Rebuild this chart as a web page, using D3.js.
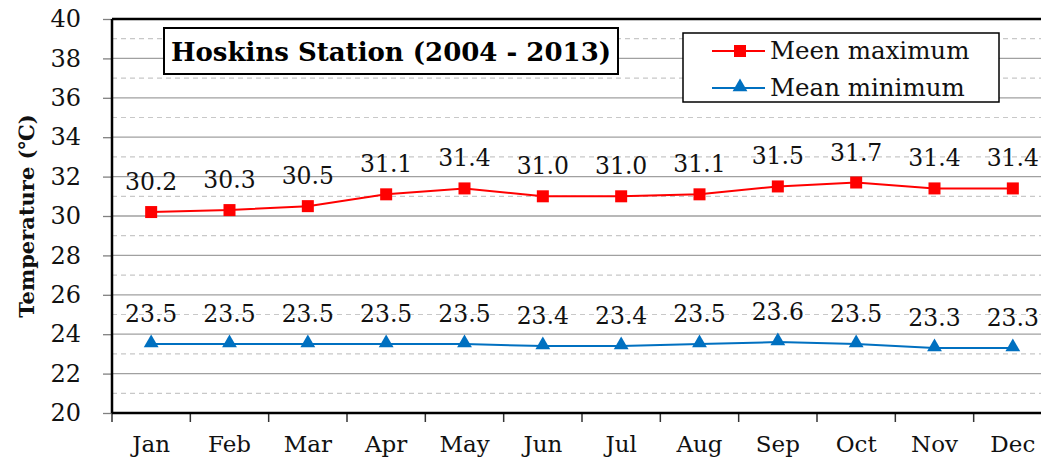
<!DOCTYPE html>
<html>
<head>
<meta charset="utf-8">
<script src="https://cdn.jsdelivr.net/npm/d3@7"></script>
<style>
  body { margin: 0; background: #fff; }
  svg { display: block; font-family: "DejaVu Serif", serif; }
</style>
</head>
<body>
<svg id="chart" width="1041" height="461"></svg>
<script>
var months = ["Jan", "Feb", "Mar", "Apr", "May", "Jun", "Jul", "Aug", "Sep", "Oct", "Nov", "Dec"];
var meanMax = [30.2, 30.3, 30.5, 31.1, 31.4, 31.0, 31.0, 31.1, 31.5, 31.7, 31.4, 31.4];
var meanMin = [23.5, 23.5, 23.5, 23.5, 23.5, 23.4, 23.4, 23.5, 23.6, 23.5, 23.3, 23.3];
var yTicks = [20, 22, 24, 26, 28, 30, 32, 34, 36, 38, 40];
var yMinor = [21, 23, 25, 27, 29, 31, 33, 35, 37, 39];
var seriesNames = ["Meen maximum", "Mean minimum"];
var titleText = "Hoskins Station (2004 - 2013)";
var yTitle = "Temperature (\u2103)";

var margin = {top: 19, left: 112},
    plotW = 940,
    plotH = 394;

var svg = d3.select("#chart");
var g = svg.append("g")
  .attr("transform", "translate(" + margin.left + "," + margin.top + ")");

var x = d3.scaleBand().domain(months).range([0, plotW]).padding(0);
var y = d3.scaleLinear().domain([20, 40]).range([plotH, 0]);
var cx = function(d) { return x(d) + x.bandwidth() / 2; };

// minor dashed gridlines
g.selectAll(".minor").data(yMinor).enter().append("line")
  .attr("x1", 0).attr("x2", plotW)
  .attr("y1", function(d) { return y(d); })
  .attr("y2", function(d) { return y(d); })
  .attr("stroke", "#c8c8c8").attr("stroke-width", 1.2)
  .attr("stroke-dasharray", "5,4");

// major gridlines
g.selectAll(".major").data(yTicks.slice(1, -1)).enter().append("line")
  .attr("x1", 0).attr("x2", plotW)
  .attr("y1", function(d) { return y(d); })
  .attr("y2", function(d) { return y(d); })
  .attr("stroke", "#a0a0a0").attr("stroke-width", 1.3);

// y axis
var yAxis = g.append("g")
  .call(d3.axisLeft(y).tickValues(yTicks).tickSize(9).tickPadding(22).tickFormat(d3.format("d")));
yAxis.select(".domain").remove();
yAxis.selectAll(".tick line").attr("stroke", "#808080").attr("stroke-width", 1.3);
yAxis.selectAll(".tick text")
  .attr("font-family", "DejaVu Serif").attr("font-size", 24).attr("fill", "#111");

// x axis labels (kept just inside the bottom edge)
var xAxis = g.append("g")
  .attr("transform", "translate(0," + plotH + ")")
  .call(d3.axisBottom(x).tickSize(0).tickPadding(23));
xAxis.select(".domain").remove();
xAxis.selectAll(".tick text")
  .attr("font-family", "DejaVu Serif").attr("font-size", 23).attr("fill", "#111");

// x tick marks on band boundaries
g.selectAll(".xtick").data(months).enter().append("line")
  .attr("x1", function(d) { return x(d); })
  .attr("x2", function(d) { return x(d); })
  .attr("y1", plotH).attr("y2", plotH + 9)
  .attr("stroke", "#333").attr("stroke-width", 1.5);

// frame lines
g.append("line").attr("x1", 0).attr("x2", plotW).attr("y1", 0).attr("y2", 0)
  .attr("stroke", "#000").attr("stroke-width", 2.5);
g.append("line").attr("x1", 0).attr("x2", plotW).attr("y1", plotH).attr("y2", plotH)
  .attr("stroke", "#000").attr("stroke-width", 2.5);
g.append("line").attr("x1", 0).attr("x2", 0).attr("y1", 0).attr("y2", plotH)
  .attr("stroke", "#000").attr("stroke-width", 2.5);

var line = d3.line()
  .x(function(d, i) { return cx(months[i]); })
  .y(function(d) { return y(d); });

// max series
g.append("path").datum(meanMax).attr("d", line)
  .attr("fill", "none").attr("stroke", "#ff0000").attr("stroke-width", 2);
g.selectAll(".sq").data(meanMax).enter().append("rect")
  .attr("x", function(d, i) { return cx(months[i]) - 6; })
  .attr("y", function(d) { return y(d) - 6; })
  .attr("width", 12).attr("height", 12)
  .attr("fill", "#ff0000");

// min series
g.append("path").datum(meanMin).attr("d", line)
  .attr("fill", "none").attr("stroke", "#0070c0").attr("stroke-width", 2);
var tri = d3.symbol().type(d3.symbolTriangle).size(95);
g.selectAll(".tri").data(meanMin).enter().append("path")
  .attr("d", tri)
  .attr("transform", function(d, i) { return "translate(" + cx(months[i]) + "," + (y(d) - 1) + ")"; })
  .attr("fill", "#0070c0");

// data labels
function labels(data) {
  g.selectAll(null).data(data).enter().append("text")
    .attr("x", function(d, i) { return cx(months[i]); })
    .attr("y", function(d) { return y(d) - 22; })
    .attr("text-anchor", "middle")
    .attr("font-size", 23.5).attr("fill", "#111")
    .text(function(d) { return d.toFixed(1); });
}
labels(meanMax);
labels(meanMin);

// title box
var tb = svg.append("g").attr("transform", "translate(164,28)");
tb.append("rect").attr("width", 454).attr("height", 46)
  .attr("fill", "#fff").attr("stroke", "#000").attr("stroke-width", 2);
tb.append("text").attr("x", 227).attr("y", 33).attr("text-anchor", "middle")
  .attr("font-size", 26).attr("font-weight", "bold").attr("fill", "#000")
  .text(titleText);

// legend
var lg = svg.append("g").attr("transform", "translate(683,33)");
lg.append("rect").attr("width", 316).attr("height", 69)
  .attr("fill", "#fff").attr("stroke", "#000").attr("stroke-width", 1.5);
var colors = ["#ff0000", "#0070c0"];
seriesNames.forEach(function(name, i) {
  var yy = 18 + i * 37;
  lg.append("line").attr("x1", 29).attr("x2", 82).attr("y1", yy).attr("y2", yy)
    .attr("stroke", colors[i]).attr("stroke-width", 2);
  if (i === 0) {
    lg.append("rect").attr("x", 51).attr("y", yy - 6).attr("width", 12).attr("height", 12)
      .attr("fill", colors[i]);
  } else {
    lg.append("path").attr("d", tri).attr("transform", "translate(57," + (yy - 1) + ")")
      .attr("fill", colors[i]);
  }
  lg.append("text").attr("x", 87).attr("y", yy + 8)
    .attr("font-size", 24.5).attr("fill", "#111").text(name);
});

// y title
svg.append("text")
  .attr("transform", "translate(34," + (margin.top + plotH / 2) + ") rotate(-90)")
  .attr("text-anchor", "middle")
  .attr("font-size", 21).attr("font-weight", "bold").attr("fill", "#111")
  .text(yTitle);
</script>
</body>
</html>
